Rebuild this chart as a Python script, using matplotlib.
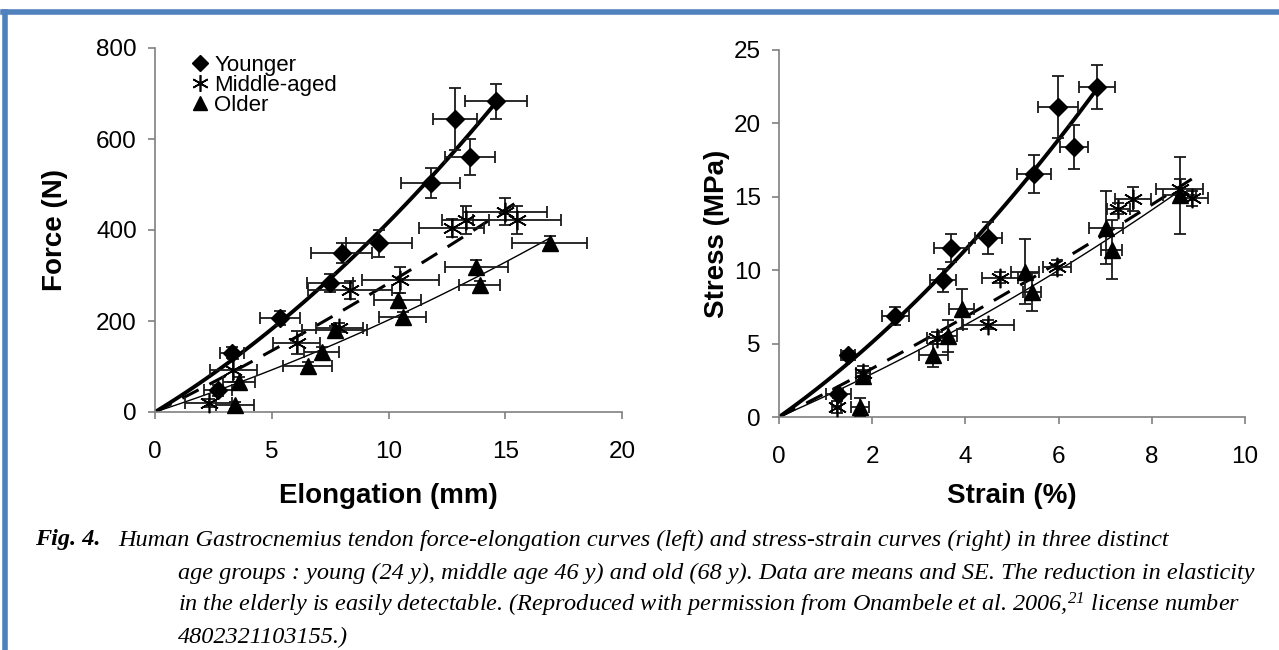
import numpy as np
import matplotlib.pyplot as plt
from matplotlib.lines import Line2D

plt.rcParams['font.family'] = ['Liberation Sans', 'DejaVu Sans']
plt.rcParams['mathtext.fontset'] = 'custom'
plt.rcParams['mathtext.rm'] = 'Liberation Serif:italic'
plt.rcParams['mathtext.it'] = 'Liberation Serif:italic'

# ---- left panel: force vs elongation ----
young_el = [2.7, 3.3, 5.35, 7.5, 8.0, 9.6, 11.8, 12.85, 13.5, 14.6]
young_force = [48, 130, 207, 283, 350, 371, 503, 644, 560, 683]
young_el_err = [0.6, 0.5, 0.85, 1.0, 1.3, 1.4, 1.28, 0.93, 1.07, 1.32]
young_force_err = [12, 12, 15, 20, 22, 30, 33, 68, 40, 38]

mid_el = [2.3, 3.35, 6.07, 7.9, 8.35, 10.5, 12.7, 13.3, 15.0, 15.5]
mid_force = [20, 92, 152, 185, 268, 290, 404, 422, 440, 422]
mid_el_err = [1.0, 1.0, 1.0, 1.0, 1.8, 1.65, 1.4, 1.0, 1.8, 1.9]
mid_force_err = [8, 25, 25, 10, 20, 28, 20, 31, 30, 30]

old_el = [3.43, 3.6, 6.55, 7.15, 7.7, 10.4, 10.6, 13.75, 13.9, 16.9]
old_force = [15, 66, 101, 132, 180, 246, 209, 319, 279, 371]
old_el_err = [0.8, 0.7, 1.05, 0.75, 1.4, 1.0, 1.0, 1.35, 0.86, 1.6]
old_force_err = [8, 10, 8, 10, 10, 15, 10, 15, 10, 15]

# ---- right panel: stress vs strain ----
young_strain = [1.27, 1.48, 2.49, 3.51, 3.7, 4.49, 5.47, 5.98, 6.33, 6.82]
young_stress = [1.6, 4.2, 6.9, 9.3, 11.5, 12.2, 16.55, 21.1, 18.4, 22.5]
young_strain_err = [0.27, 0.16, 0.29, 0.28, 0.38, 0.29, 0.36, 0.43, 0.3, 0.39]
young_stress_err = [0.3, 0.3, 0.6, 0.8, 0.97, 1.1, 1.3, 2.1, 1.5, 1.5]

mid_strain = [1.24, 1.8, 3.38, 4.49, 4.74, 5.96, 7.28, 7.6, 8.6, 8.86]
mid_stress = [0.7, 3.0, 5.4, 6.3, 9.5, 10.2, 14.2, 14.85, 15.5, 14.9]
mid_strain_err = [0.1, 0.15, 0.2, 0.55, 0.38, 0.3, 0.25, 0.38, 0.5, 0.35]
mid_stress_err = [0.4, 0.5, 0.4, 0.3, 0.35, 0.5, 0.4, 0.83, 0.7, 0.5]

old_strain = [1.74, 1.8, 3.31, 3.63, 3.92, 5.28, 5.43, 7.02, 7.14, 8.6]
old_stress = [0.7, 2.8, 4.2, 5.5, 7.35, 9.9, 8.5, 12.9, 11.4, 15.1]
old_strain_err = [0.2, 0.15, 0.31, 0.2, 0.27, 0.3, 0.2, 0.37, 0.23, 0.35]
old_stress_err = [0.6, 0.4, 0.8, 1.1, 1.36, 2.2, 1.3, 2.5, 2.0, 2.6]

labels = ['Younger', 'Middle-aged', 'Older']
asterisk = (6, 2, 0)


def trend(x, y):
    # quadratic trendline forced through the origin
    x = np.asarray(x, float)
    y = np.asarray(y, float)
    c = np.linalg.lstsq(np.column_stack([x, x ** 2]), y, rcond=None)[0]
    xs = np.linspace(0, x.max(), 100)
    return xs, c[0] * xs + c[1] * xs ** 2


def draw_panel(ax, groups):
    styles = [dict(ls='-', lw=2.8), dict(ls=(0, (6, 4)), lw=2.2), dict(ls='-', lw=1.0)]
    for (x, y, xe, ye), st in zip(groups, styles):
        xs, ys = trend(x, y)
        ax.plot(xs, ys, color='black', zorder=2, **st)
    markers = [dict(marker='D', ms=9.5, mfc='black', mec='black'),
               dict(marker=asterisk, ms=14, mfc='none', mec='black', mew=1.2),
               dict(marker='^', ms=11.5, mfc='black', mec='black')]
    for (x, y, xe, ye), mk in zip(groups, markers):
        ax.errorbar(x, y, xerr=xe, yerr=ye, fmt='none', ecolor='#1a1a1a',
                    elinewidth=1.3, capsize=4, capthick=1.3, zorder=3)
        ax.plot(x, y, ls='none', zorder=4, clip_on=False, **mk)
    for s in ['top', 'right']:
        ax.spines[s].set_visible(False)
    for s in ['left', 'bottom']:
        ax.spines[s].set_color('#808080')
        ax.spines[s].set_linewidth(1.2)
    ax.tick_params(axis='both', direction='out', length=5, width=1.2,
                   color='#808080', labelsize=17.5)
    ax.tick_params(axis='x', pad=16)
    ax.tick_params(axis='y', pad=8)
    return markers


W, H = 1279, 650
fig = plt.figure(figsize=(W / 100, H / 100), dpi=100)

ax1 = fig.add_axes([155 / W, 1 - 412 / H, 467 / W, 364 / H])
mk = draw_panel(ax1, [(young_el, young_force, young_el_err, young_force_err),
                      (mid_el, mid_force, mid_el_err, mid_force_err),
                      (old_el, old_force, old_el_err, old_force_err)])
ax1.set_xlim(0, 20)
ax1.set_ylim(0, 800)
ax1.set_xticks([0, 5, 10, 15, 20])
ax1.set_yticks([0, 200, 400, 600, 800])
ax1.set_xlabel('Elongation (mm)', fontsize=20, fontweight='bold', labelpad=14)
ax1.set_ylabel('Force (N)', fontsize=20, fontweight='bold', labelpad=20)

handles = [Line2D([], [], ls='none', **m) for m in mk]
handles[0].set_markersize(8)
handles[1].set_markersize(12)
handles[2].set_markersize(10)
ax1.legend(handles, labels, loc='upper left', bbox_to_anchor=(0.058, 1.005),
           frameon=False, fontsize=16, handlelength=0.8, handletextpad=0.25,
           labelspacing=-0.05, borderaxespad=0)

ax2 = fig.add_axes([779 / W, 1 - 417 / H, 466 / W, 367 / H])
draw_panel(ax2, [(young_strain, young_stress, young_strain_err, young_stress_err),
                 (mid_strain, mid_stress, mid_strain_err, mid_stress_err),
                 (old_strain, old_stress, old_strain_err, old_stress_err)])
ax2.set_xlim(0, 10)
ax2.set_ylim(0, 25)
ax2.set_xticks([0, 2, 4, 6, 8, 10])
ax2.set_yticks([0, 5, 10, 15, 20, 25])
ax2.set_xlabel('Strain (%)', fontsize=20, fontweight='bold', labelpad=11)
ax2.set_ylabel('Stress (MPa)', fontsize=20, fontweight='bold', labelpad=3)

# caption
cap = dict(fontsize=17.5, family=['Liberation Serif', 'DejaVu Serif'], style='italic', va='center')
fig.text(35 / W, 1 - 540 / H, 'Fig. 4.', fontweight='bold', **cap)
fig.text(118 / W, 1 - 540 / H,
         'Human Gastrocnemius tendon force-elongation curves (left) and stress-strain curves (right) in three distinct',
         **cap)
fig.text(178 / W, 1 - 573 / H,
         'age groups : young (24 y), middle age 46 y) and old (68 y). Data are means and SE. The reduction in elasticity',
         **cap)
fig.text(178 / W, 1 - 605 / H,
         'in the elderly is easily detectable. (Reproduced with permission from Onambele et al. 2006,$^{21}$ license number',
         **cap)
fig.text(178 / W, 1 - 637 / H, '4802321103155.)', **cap)

# blue frame
blue = '#4F81BD'
fig.add_artist(Line2D([3 / W, 1], [1 - 12 / H, 1 - 12 / H], color=blue, lw=4,
                      transform=fig.transFigure))
fig.add_artist(Line2D([5 / W, 5 / W], [0, 1 - 12 / H], color=blue, lw=4,
                      transform=fig.transFigure))

fig.savefig('out.png', dpi=100)
